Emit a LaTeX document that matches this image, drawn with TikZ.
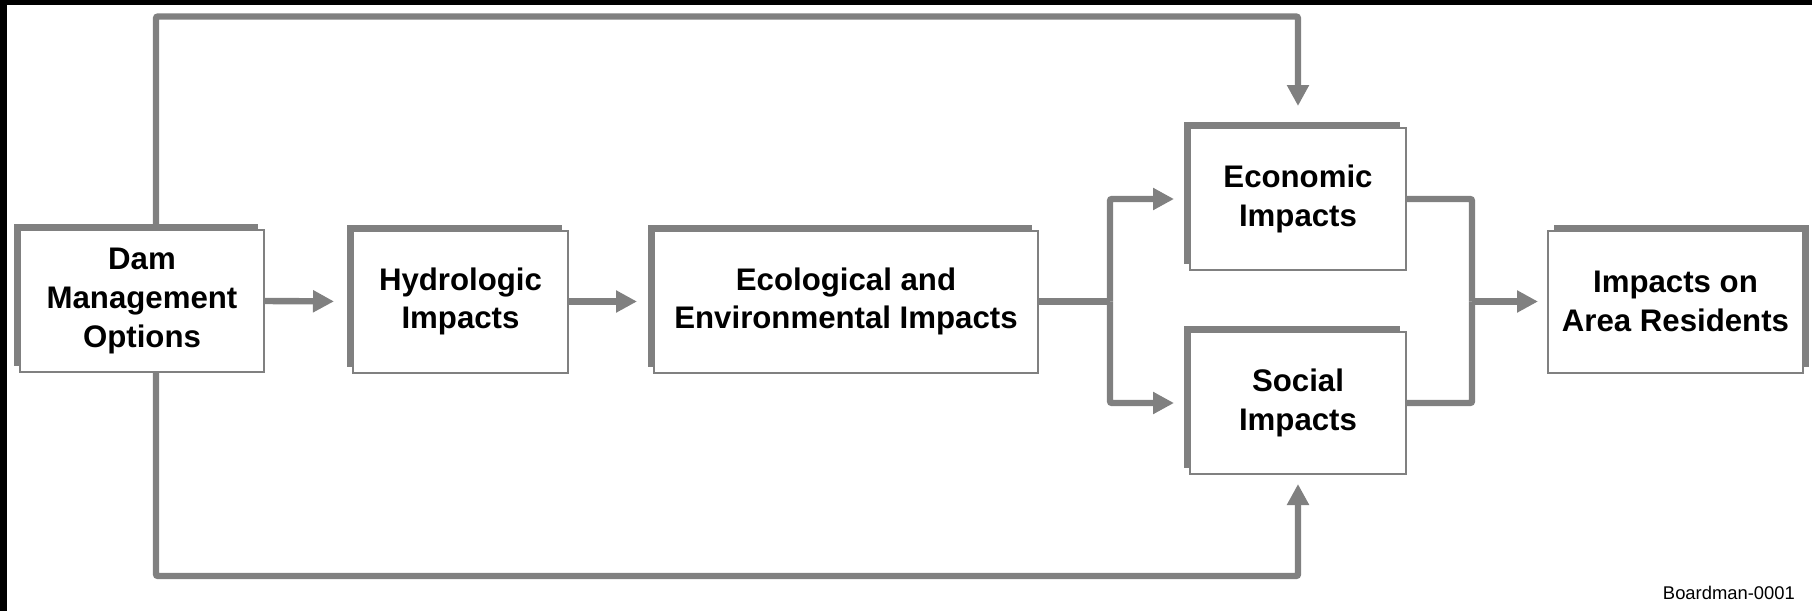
\documentclass[tikz,border=0pt]{standalone}
\usepackage{fontspec}
\setmainfont{Liberation Sans}
\usetikzlibrary{arrows.meta, shadows}
\definecolor{linegray}{RGB}{128,128,128}

\begin{document}
\begin{tikzpicture}[x=0.5pt, y=-0.5pt,
    box/.style={draw=linegray, line width=1pt, fill=white, inner sep=0pt,
        minimum height=71pt, align=center,
        font=\fontsize{15.6}{19.3}\selectfont\bfseries},
    impact/.style={box, general shadow={fill=linegray, shadow xshift=-3pt, shadow yshift=3pt}},
    result/.style={box, general shadow={fill=linegray, shadow xshift=3pt, shadow yshift=3pt}},
    link/.style={draw=linegray, line width=3.2pt, rounded corners=1pt},
    flow/.style={link, -{Triangle[length=10.5pt, width=10.5pt]}}]

    \useasboundingbox (0,0) rectangle (1812,611);

    % Black frame at top and left
    \fill[black] (0,0) rectangle (1812,5);
    \fill[black] (0,0) rectangle (7,611);

    % Boxes
    \node[impact, minimum width=122pt] (dam) at (142,301) {Dam\\Management\\Options};
    \node[impact, minimum width=107.5pt] (hydro) at (460.5,301.5) {Hydrologic\\Impacts};
    \node[impact, minimum width=192pt] (eco) at (846,301.5) {Ecological and\\Environmental Impacts};
    \node[impact, minimum width=108pt] (econ) at (1298,199) {Economic\\Impacts};
    \node[impact, minimum width=108pt] (social) at (1298,403) {Social\\Impacts};
    \node[result, minimum width=127.5pt] (res) at (1675.5,301.5) {Impacts on\\Area Residents};

    % Split and merge points
    \coordinate (split) at (1110,301.5);
    \coordinate (merge) at (1472,301.5);
    \coordinate (top) at (0,16.5);
    \coordinate (bot) at (0,576);

    % Main chain
    \draw[flow, shorten >=9pt] (dam.east) -- (hydro.west);
    \draw[flow, shorten >=8pt] (hydro.east) -- (eco.west);
    \draw[link] (eco.east) -- (split);
    \draw[flow, shorten >=7.5pt] (split) |- (econ.west);
    \draw[flow, shorten >=7.5pt] (split) |- (social.west);
    \draw[link] (econ.east) -| (merge);
    \draw[link] (social.east) -| (merge);
    \draw[flow, shorten >=4.5pt] (merge) -- (res.west);

    % Direct paths round the chain
    \draw[flow, shorten >=10.5pt] ([xshift=7pt]dam.north) |- (top -| econ.north) -- (econ.north);
    \draw[flow, shorten >=4.5pt] ([xshift=7pt]dam.south) |- (bot -| social.south) -- (social.south);

    \node[anchor=base east, font=\fontsize{9.2}{11}\selectfont] (tag) at (1802,599) {Boardman-0001};

\end{tikzpicture}
\end{document}
